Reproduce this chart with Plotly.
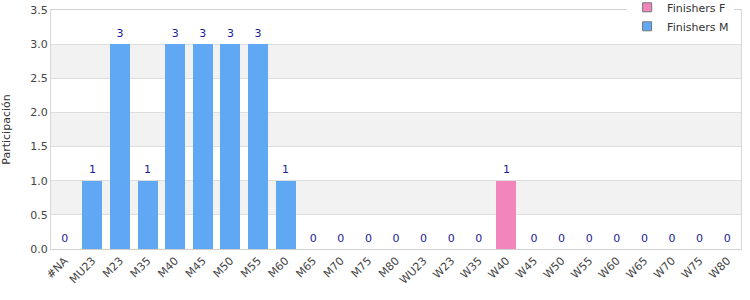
import plotly.graph_objects as go

categories = ["#NA", "MU23", "M23", "M35", "M40", "M45", "M50", "M55", "M60", "M65",
              "M70", "M75", "M80", "WU23", "W23", "W35", "W40", "W45", "W50", "W55",
              "W60", "W65", "W70", "W75", "W80"]
finishers_m = [0, 1, 3, 1, 3, 3, 3, 3, 1, 0, 0, 0, 0, 0, 0, 0, 0, 0, 0, 0, 0, 0, 0, 0, 0]
finishers_f = [0, 0, 0, 0, 0, 0, 0, 0, 0, 0, 0, 0, 0, 0, 0, 0, 1, 0, 0, 0, 0, 0, 0, 0, 0]
totals = [m + f for m, f in zip(finishers_m, finishers_f)]

blue = "#60a8f4"
pink = "#f285bc"
font = "DejaVu Sans"

fig = go.Figure()
fig.add_trace(go.Bar(x=categories, y=finishers_f, name="Finishers F", showlegend=False,
                     marker=dict(color=pink, line=dict(width=0))))
fig.add_trace(go.Bar(x=categories, y=finishers_m, name="Finishers M", showlegend=False,
                     marker=dict(color=blue, line=dict(width=0))))
fig.add_trace(go.Scatter(x=categories, y=totals, mode="markers+text", text=[str(t) for t in totals],
                         textposition="top center", showlegend=False, hoverinfo="skip",
                         marker=dict(size=6, opacity=0),
                         textfont=dict(family=font, size=11, color="#1c1c96")))
# legend entries (square swatches)
for name, col in [("Finishers F", pink), ("Finishers M", blue)]:
    fig.add_trace(go.Scatter(x=[None], y=[None], mode="markers", name=name,
                             marker=dict(symbol="square", size=9, color=col,
                                         line=dict(color="#777", width=1))))

# alternating bands
for y0 in [0.5, 1.5, 2.5]:
    fig.add_shape(type="rect", xref="paper", yref="y", x0=0, x1=1, y0=y0, y1=y0 + 0.5,
                  fillcolor="#f2f2f2", line=dict(width=0), layer="below")

fig.update_layout(
    width=750, height=300,
    margin=dict(l=51, r=9, t=10, b=51, autoexpand=False),
    barmode="stack", bargap=0.27,
    plot_bgcolor="white", paper_bgcolor="white",
    font=dict(family=font, size=11, color="#444"),
    legend=dict(x=0.99, y=1.072, xanchor="right", yanchor="top", bgcolor="white",
                traceorder="normal", font=dict(family=font, size=11, color="#333"),
                itemwidth=30, tracegroupgap=0, borderwidth=0),
    xaxis=dict(tickangle=-45, showline=True, linecolor="#d0d0d0", mirror=True,
               range=[-0.5, len(categories) - 0.5],
               ticks="", tickfont=dict(family=font, size=11, color="#444"), showgrid=False),
    yaxis=dict(range=[0, 3.5], dtick=0.5, tickformat=".1f", showgrid=True, gridcolor="#dddddd",
               showline=True, linecolor="#d8d8d8", mirror=True, zeroline=False,
               title=dict(text="Participación", font=dict(family=font, size=11, color="#333"), standoff=18),
               tickfont=dict(family=font, size=11, color="#444")),
)

fig.write_html("out.html")
